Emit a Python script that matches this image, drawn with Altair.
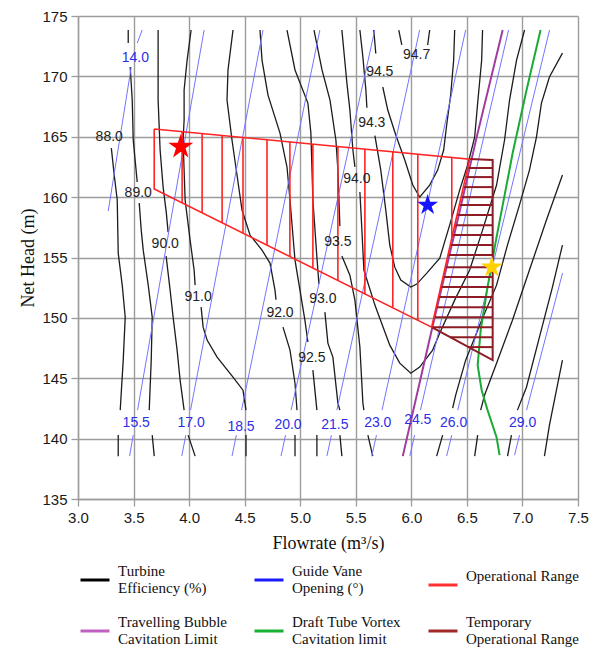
import altair as alt
import pandas as pd

# ---------------- axes ----------------
x_domain = [3.0, 7.5]
y_domain = [135, 175]
x_tick_values = [3.0, 3.25, 3.5, 3.75, 4.0, 4.25, 4.5, 4.75, 5.0, 5.25, 5.5, 5.75,
                 6.0, 6.25, 6.5, 6.75, 7.0, 7.25, 7.5]
y_tick_values = [135, 137.5, 140, 142.5, 145, 147.5, 150, 152.5, 155, 157.5, 160,
                 162.5, 165, 167.5, 170, 172.5, 175]

# ---------------- turbine efficiency contours (segments, gaps at labels) ----------------
eff_88 = [[(3.300, 164.06), (3.326, 161.83), (3.353, 159.76), (3.362, 155.36), (3.398, 152.71),
           (3.425, 150.06), (3.407, 146.5), (3.380, 142.36)],
          [(3.362, 140.29), (3.362, 138.55)]]
eff_89 = [[(3.452, 173.84), (3.452, 172.76)],
          [(3.470, 170.77), (3.488, 168.04), (3.497, 164.73), (3.533, 161.25)],
          [(3.551, 159.51), (3.569, 157.27), (3.587, 155.61), (3.632, 152.71), (3.668, 150.06),
           (3.659, 146.5), (3.641, 142.36)],
          [(3.668, 140.29), (3.686, 138.55)]]
eff_90 = [[(3.721, 173.84), (3.721, 168.04), (3.739, 163.9), (3.766, 160.83), (3.795, 158.7),
           (3.811, 157.1)],
          [(3.793, 155.12), (3.829, 152.3), (3.856, 150.06), (3.892, 147.33), (3.919, 144.84),
           (3.955, 142.36)],
          [(3.991, 140.29), (4.054, 138.55)]]
eff_91 = [[(4.018, 173.84), (3.982, 171.35), (3.955, 168.87), (3.955, 166.38), (3.946, 164.73),
           (3.964, 159.76), (4.009, 156.44), (4.045, 153.96), (4.054, 152.71)],
          [(4.108, 150.89), (4.126, 149.23), (4.162, 148.16), (4.252, 146.75), (4.395, 145.09),
           (4.485, 144.01), (4.512, 142.36)],
          [(4.512, 140.29), (4.512, 138.55)]]
eff_92 = [[(4.395, 173.84), (4.350, 170.53), (4.341, 168.04), (4.386, 164.73), (4.431, 161.83),
           (4.476, 158.93), (4.548, 156.86), (4.656, 155.61), (4.728, 154.54), (4.773, 152.3),
           (4.782, 151.5)],
          [(4.845, 149.23), (4.908, 147.33), (4.953, 144.59), (4.971, 142.36)],
          [(4.953, 140.29), (4.953, 138.55)]]
eff_925 = [[(4.638, 173.84), (4.656, 171.35), (4.710, 168.45), (4.818, 165.3), (4.881, 162.49),
            (4.908, 159.76), (4.953, 154.78), (5.042, 149.81), (5.069, 148.0)],
           [(5.114, 145.67), (5.150, 142.36)],
           [(5.150, 140.29), (5.150, 138.55)]]
eff_93 = [[(4.881, 173.84), (4.953, 170.53), (5.069, 167.79), (5.096, 165.3), (5.114, 159.76),
           (5.150, 155.03), (5.168, 152.8)],
          [(5.222, 150.48), (5.249, 147.91), (5.294, 146.75), (5.339, 142.94), (5.357, 142.36)],
          [(5.357, 140.29), (5.375, 138.55)]]
eff_935 = [[(5.124, 173.84), (5.196, 170.53), (5.268, 168.04), (5.321, 164.73), (5.339, 162.24),
            (5.357, 157.6)],
           [(5.375, 155.12), (5.447, 153.54), (5.492, 151.47), (5.537, 147.58), (5.564, 142.94),
            (5.573, 142.36)],
           [(5.609, 140.29), (5.653, 138.55)]]
eff_94 = [[(5.375, 173.84), (5.420, 169.45), (5.447, 167.21), (5.474, 163.9), (5.492, 162.5)],
          [(5.537, 160.42), (5.555, 157.27), (5.573, 153.96), (5.672, 151.06), (5.806, 147.74),
           (5.896, 146.25), (5.995, 145.42), (6.075, 145.92), (6.192, 147.33), (6.256, 148.74),
           (6.390, 151.47), (6.525, 153.96), (6.641, 157.27), (6.767, 161.0), (6.839, 164.73),
           (6.884, 168.04), (6.947, 171.35), (7.019, 173.84)]]
eff_943 = [[(5.537, 173.84), (5.564, 171.6), (5.591, 168.87), (5.600, 167.4)],
           [(5.672, 165.1), (5.725, 162.24), (5.770, 158.93), (5.806, 156.03), (5.851, 154.2),
            (5.905, 153.13), (5.995, 152.55), (6.049, 152.8), (6.139, 153.71), (6.256, 154.95),
            (6.345, 157.68), (6.435, 160.58), (6.507, 162.66), (6.570, 164.97), (6.597, 167.79),
            (6.633, 171.35), (6.641, 173.84)]]
eff_945 = [[(5.662, 173.84), (5.680, 171.9)],
           [(5.743, 169.12), (5.788, 167.21), (5.860, 165.14), (5.941, 163.07), (6.013, 161.0),
            (6.075, 160.0), (6.165, 161.0), (6.237, 162.24), (6.291, 163.9), (6.318, 165.97),
            (6.354, 168.45), (6.381, 171.35), (6.390, 173.84)]]
eff_947 = [[(5.887, 173.84), (5.914, 172.6)],
           [(6.147, 172.6), (6.165, 173.84)]]
eff_935_r = [[(7.360, 171.93), (7.243, 169.95), (7.171, 167.79), (7.126, 164.97), (7.063, 162.24),
              (6.973, 159.34), (6.865, 156.03), (6.767, 152.71), (6.633, 149.81), (6.489, 146.5),
              (6.399, 143.6), (6.372, 142.52)],
             [(6.282, 140.29), (6.228, 138.55)]]
eff_93_r = [[(7.360, 161.83), (7.216, 158.1), (7.063, 153.96), (6.910, 149.81), (6.767, 146.25),
             (6.659, 143.6), (6.624, 142.36)],
            [(6.597, 140.29), (6.570, 138.55)]]
eff_925_r = [[(7.360, 156.03), (7.270, 152.55), (7.153, 148.4), (7.036, 144.26), (6.955, 142.36)],
             [(6.901, 140.29), (6.866, 138.55)]]
eff_92_r = [[(7.360, 146.5), (7.288, 143.19), (7.243, 141.12), (7.198, 138.55)]]

eff_lines = {"88.0": eff_88, "89.0": eff_89, "90.0": eff_90, "91.0": eff_91, "92.0": eff_92,
             "92.5": eff_925, "93.0": eff_93, "93.5": eff_935, "94.0": eff_94, "94.3": eff_943,
             "94.5": eff_945, "94.7": eff_947, "93.5r": eff_935_r, "93.0r": eff_93_r,
             "92.5r": eff_925_r, "92.0r": eff_92_r}

eff_label_text = ["88.0", "89.0", "90.0", "91.0", "92.0", "92.5", "93.0", "93.5", "94.0", "94.3",
                  "94.5", "94.7"]
eff_label_x = [3.281, 3.542, 3.785, 4.081, 4.818, 5.105, 5.204, 5.339, 5.510, 5.644, 5.716, 6.048]
eff_label_y = [164.97, 160.34, 156.11, 151.72, 150.39, 146.67, 151.55, 156.28, 161.5, 166.13,
               170.36, 171.77]

# ---------------- guide vane opening lines ----------------
gv_names = ["14.0", "15.5", "17.0", "18.5", "20.0", "21.5", "23.0", "24.5", "26.0", "29.0"]
gv_lower = [[(3.272, 158.84), (3.479, 170.77)],
            [(3.464, 138.55), (3.497, 140.29)],
            [(3.934, 138.55), (3.970, 140.29)],
            [(4.386, 138.55), (4.425, 140.29)],
            [(4.827, 138.55), (4.868, 140.29)],
            [(5.240, 138.55), (5.281, 140.29)],
            [(5.644, 138.55), (5.686, 140.29)],
            [(5.986, 138.55), (6.030, 140.29)],
            [(6.318, 138.55), (6.364, 140.29)],
            [(6.929, 138.63), (6.974, 140.29)]]
gv_upper = [[(3.533, 172.76), (3.578, 173.84)],
            [(3.536, 142.36), (4.135, 173.84)],
            [(4.013, 142.36), (4.665, 173.84)],
            [(4.472, 142.36), (5.177, 173.84)],
            [(4.918, 142.36), (5.671, 173.84)],
            [(5.330, 142.36), (6.075, 173.84)],
            [(5.736, 142.36), (6.489, 173.84)],
            [(6.082, 142.36), (6.875, 173.84)],
            [(6.418, 142.36), (7.244, 173.84)],
            [(7.037, 142.36), (7.361, 153.71)]]
gv_label_x = [3.516, 3.524, 4.018, 4.467, 4.890, 5.312, 5.698, 6.058, 6.381, 7.001]
gv_label_y = [171.52, 141.28, 141.28, 141.0, 141.1, 141.1, 141.28, 141.53, 141.28, 141.28]

# ---------------- cavitation limits ----------------
bubble_x = [5.923, 6.183, 6.417, 6.588, 6.822]
bubble_y = [138.55, 148.98, 158.1, 164.97, 173.84]
vortex_x = [7.163, 7.037, 6.912, 6.767, 6.686, 6.624, 6.597, 6.633, 6.686, 6.767, 6.794]
vortex_y = [173.84, 168.87, 163.65, 156.69, 152.55, 148.98, 146.08, 144.01, 142.36, 140.12, 138.63]

# ---------------- operational range (red) ----------------
op_x = [3.686, 6.525, 6.183, 3.686, 3.686]
op_y = [165.64, 163.15, 149.23, 160.67, 165.64]
op_hatch_x = [3.937, 4.117, 4.297, 4.485, 4.701, 4.907, 5.114, 5.339, 5.582, 5.833, 6.058, 6.364]
op_hatch_top = [165.42, 165.26, 165.10, 164.94, 164.75, 164.57, 164.39, 164.19, 163.98, 163.76,
                163.56, 163.29]
op_hatch_bottom = [159.52, 158.70, 157.87, 157.01, 156.02, 155.08, 154.13, 153.10, 151.98, 150.83,
                   149.80, 156.6]

# ---------------- temporary operational range (dark red) ----------------
tmp_x = [6.525, 6.732, 6.732, 6.183]
tmp_y = [163.15, 163.07, 146.5, 149.23]
tmp_hatch_y = [162.41, 161.66, 160.83, 160.0, 159.34, 158.51, 157.68, 156.86, 156.03, 155.2,
               154.2, 153.38, 152.55, 151.72, 150.89, 150.06, 149.23, 148.4, 147.58]
tmp_hatch_left = [6.507, 6.488, 6.468, 6.448, 6.431, 6.411, 6.391, 6.370, 6.350, 6.330, 6.305,
                  6.285, 6.265, 6.244, 6.224, 6.204, 6.183, 6.350, 6.515]
tmp_hatch_right = [6.732] * 19

# ---------------- stars ----------------
star_x = [3.925, 6.147, 6.725]
star_y = [164.17, 159.34, 154.2]
star_color = ["#ff0000", "#1414ff", "#ffd200"]
star_size = [690, 485, 530]

# ---------------- legend ----------------
legend_names = ["Turbine|Efficiency (%)", "Guide Vane|Opening (°)", "Operational Range",
                "Travelling Bubble|Cavitation Limit", "Draft Tube Vortex|Cavitation limit",
                "Temporary|Operational Range"]
legend_colors = ["#000000", "#1a1aff", "#ff3030", "#c060c0", "#18b030", "#a02828"]

STAR = ("M0,-1L0.2245,-0.309L0.9511,-0.309L0.3633,0.118L0.5878,0.809L0,0.382"
        "L-0.5878,0.809L-0.3633,0.118L-0.9511,-0.309L-0.2245,-0.309Z")


def seg_rows(name, segs):
    rows = []
    for si, seg in enumerate(segs):
        for oi, (x, y) in enumerate(seg):
            rows.append({"seg": f"{name}-{si}", "ord": oi, "x": x, "y": y})
    return rows


eff_rows = []
for k, v in eff_lines.items():
    eff_rows += seg_rows(k, v)
eff_df = pd.DataFrame(eff_rows)

gv_rows = []
for n, lo, up in zip(gv_names, gv_lower, gv_upper):
    gv_rows += seg_rows(n, [lo, up])
gv_df = pd.DataFrame(gv_rows)

xs = alt.Scale(domain=x_domain, nice=False, zero=False)
ys = alt.Scale(domain=y_domain, nice=False, zero=False)
GRID = "#9c9c9c"

x_axis = alt.Axis(
    values=x_tick_values, title="Flowrate (m³/s)",
    labelExpr="datum.value % 0.5 == 0 ? format(datum.value, '.1f') : ''",
    labelFont="Liberation Sans", labelFontSize=15, labelColor="#1a1a1a", labelFlush=False,
    labelOverlap=False, labelPadding=4,
    tickColor=GRID, tickWidth=1.3,
    tickSize={"condition": {"test": "datum.value % 0.5 != 0", "value": 4}, "value": 7},
    gridColor=GRID, gridWidth=1.4,
    gridOpacity={"condition": {"test": "datum.value % 0.5 != 0", "value": 0}, "value": 1},
    domainColor=GRID, domainWidth=1.4,
    titleFont="Liberation Serif", titleFontSize=18, titleFontWeight="normal", titleColor="#111",
    titleY=49, titleBaseline="alphabetic")
y_axis = alt.Axis(
    values=y_tick_values, title="Net Head (m)",
    labelExpr="datum.value % 5 == 0 ? format(datum.value, 'd') : ''",
    labelFont="Liberation Sans", labelFontSize=15, labelColor="#1a1a1a",
    labelOverlap=False, labelPadding=4,
    tickColor=GRID, tickWidth=1.3,
    tickSize={"condition": {"test": "datum.value % 5 != 0", "value": 4}, "value": 7},
    gridColor=GRID, gridWidth=1.4,
    gridOpacity={"condition": {"test": "datum.value % 5 != 0", "value": 0}, "value": 1},
    domainColor=GRID, domainWidth=1.4,
    titleFont="Liberation Serif", titleFontSize=18, titleFontWeight="normal", titleColor="#111",
    titleX=-45, titleY=241.5, titleAngle=270, titleAlign="center", titleBaseline="alphabetic")

eff_layer = alt.Chart(eff_df).mark_line(color="#1c1c1c", strokeWidth=1.3).encode(
    x=alt.X("x:Q", scale=xs, axis=x_axis),
    y=alt.Y("y:Q", scale=ys, axis=y_axis),
    detail="seg:N", order="ord:Q")

gv_layer = alt.Chart(gv_df).mark_line(color="#7474ff", strokeWidth=1.0).encode(
    x=alt.X("x:Q", scale=xs), y=alt.Y("y:Q", scale=ys), detail="seg:N", order="ord:Q")

bubble_df = pd.DataFrame({"x": bubble_x, "y": bubble_y, "ord": range(len(bubble_x))})
bubble_layer = alt.Chart(bubble_df).mark_line(color="#a03ca0", strokeWidth=2).encode(
    x=alt.X("x:Q", scale=xs), y=alt.Y("y:Q", scale=ys), order="ord:Q")

vortex_df = pd.DataFrame({"x": vortex_x, "y": vortex_y, "ord": range(len(vortex_x))})
vortex_layer = alt.Chart(vortex_df).mark_line(color="#1aaa36", strokeWidth=2).encode(
    x=alt.X("x:Q", scale=xs), y=alt.Y("y:Q", scale=ys), order="ord:Q")

tmp_df = pd.DataFrame({"x": tmp_x, "y": tmp_y, "ord": range(len(tmp_x))})
tmp_layer = alt.Chart(tmp_df).mark_line(color="#8e1c24", strokeWidth=2).encode(
    x=alt.X("x:Q", scale=xs), y=alt.Y("y:Q", scale=ys), order="ord:Q")
tmp_hatch_df = pd.DataFrame({"x": tmp_hatch_left, "x2": tmp_hatch_right, "y": tmp_hatch_y})
tmp_hatch_layer = alt.Chart(tmp_hatch_df).mark_rule(color="#8e1c24", strokeWidth=2).encode(
    x=alt.X("x:Q", scale=xs), x2="x2:Q", y=alt.Y("y:Q", scale=ys))

op_df = pd.DataFrame({"x": op_x, "y": op_y, "ord": range(len(op_x))})
op_layer = alt.Chart(op_df).mark_line(color="#ff2424", strokeWidth=1.6).encode(
    x=alt.X("x:Q", scale=xs), y=alt.Y("y:Q", scale=ys), order="ord:Q")
op_hatch_df = pd.DataFrame({"x": op_hatch_x, "y": op_hatch_top, "y2": op_hatch_bottom})
op_hatch_layer = alt.Chart(op_hatch_df).mark_rule(color="#ff2424", strokeWidth=1.6).encode(
    x=alt.X("x:Q", scale=xs), y=alt.Y("y:Q", scale=ys), y2="y2:Q")

eff_lab_df = pd.DataFrame({"x": eff_label_x, "y": eff_label_y, "t": eff_label_text})
eff_lab_layer = alt.Chart(eff_lab_df).mark_text(
    font="Liberation Sans", fontSize=14, color="#222222").encode(
    x=alt.X("x:Q", scale=xs), y=alt.Y("y:Q", scale=ys), text="t:N")

gv_lab_df = pd.DataFrame({"x": gv_label_x, "y": gv_label_y, "t": gv_names})
gv_lab_layer = alt.Chart(gv_lab_df).mark_text(
    font="Liberation Sans", fontSize=14, color="#2e2ee8").encode(
    x=alt.X("x:Q", scale=xs), y=alt.Y("y:Q", scale=ys), text="t:N")

star_df = pd.DataFrame({"x": star_x, "y": star_y, "c": star_color, "s": star_size})
star_layer = alt.Chart(star_df).mark_point(shape=STAR, filled=True, opacity=1, strokeWidth=0).encode(
    x=alt.X("x:Q", scale=xs), y=alt.Y("y:Q", scale=ys),
    color=alt.Color("c:N", scale=None), size=alt.Size("s:Q", scale=None))

legend_df = pd.DataFrame({"series": legend_names, "x": [3.0] * 6, "y": [135.0] * 6})
legend_layer = alt.Chart(legend_df).mark_line(strokeWidth=3).encode(
    x=alt.X("x:Q", scale=xs), y=alt.Y("y:Q", scale=ys),
    color=alt.Color("series:N", scale=alt.Scale(domain=legend_names, range=legend_colors),
                    legend=alt.Legend(
                        title=None, orient="none", legendX=1, legendY=548, columns=3,
                        direction="horizontal",
                        symbolType="stroke", symbolSize=841, symbolStrokeWidth=3,
                        labelExpr="split(datum.label, '|')", labelBaseline="line-bottom",
                        labelFont="Liberation Serif", labelFontSize=15, labelColor="#111",
                        labelLimit=400, labelOffset=7, columnPadding=20, rowPadding=19,
                        padding=0)))

chart = alt.layer(
    eff_layer, gv_layer, bubble_layer, vortex_layer, tmp_hatch_layer, tmp_layer,
    op_hatch_layer, op_layer, eff_lab_layer, gv_lab_layer, star_layer, legend_layer
).properties(
    width=500, height=483,
    autosize=alt.AutoSizeParams(type="none"),
    padding={"left": 70, "top": 8, "right": 15, "bottom": 148},
).configure_view(stroke=None)

chart.save("out.html", embed_options={"renderer": "svg", "actions": False})
